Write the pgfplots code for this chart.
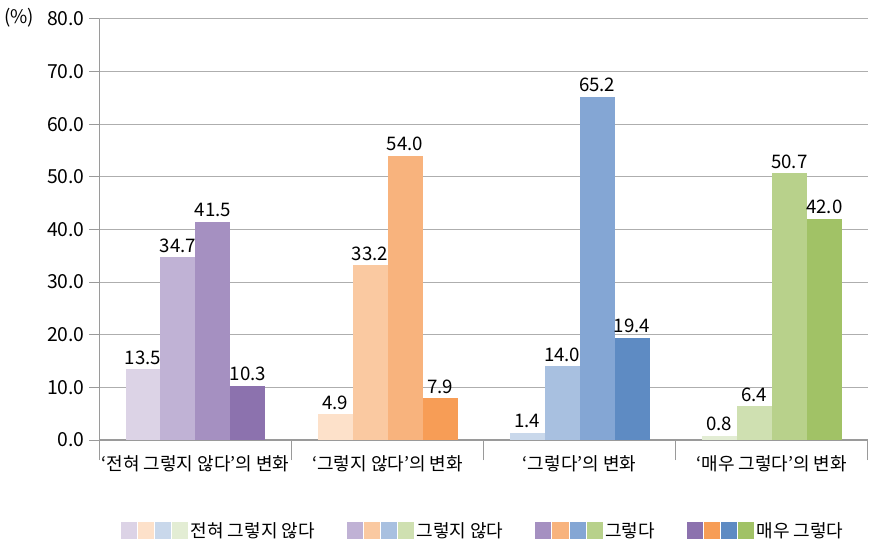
\documentclass[border=0pt]{standalone}
\usepackage{pgfplots}
\pgfplotsset{compat=1.18}
\usepackage{fontspec}
\setmainfont{Noto Sans CJK KR}
\definecolor{P1}{HTML}{DCD3E6}\definecolor{P2}{HTML}{C0B2D5}\definecolor{P3}{HTML}{A590C1}\definecolor{P4}{HTML}{8C72AE}
\definecolor{O1}{HTML}{FDE1CA}\definecolor{O2}{HTML}{FAC9A1}\definecolor{O3}{HTML}{F8B37D}\definecolor{O4}{HTML}{F79D56}
\definecolor{B1}{HTML}{C9D8EB}\definecolor{B2}{HTML}{A8C0E0}\definecolor{B3}{HTML}{84A6D4}\definecolor{B4}{HTML}{5E8BC3}
\definecolor{G1}{HTML}{E3EDD4}\definecolor{G2}{HTML}{CFE0B1}\definecolor{G3}{HTML}{B8D18B}\definecolor{G4}{HTML}{A1C266}
\definecolor{axgray}{HTML}{9A9A9A}
\newcommand{\sq}[2]{\fill[#1] (#2,-6.25pt) rectangle ++(12pt,12.75pt);}
\begin{document}
\begin{tikzpicture}
\begin{axis}[
  scale only axis, width=576pt, height=315.75pt,
  xmin=-0.5, xmax=3.5, ymin=0, ymax=80,
  ybar, bar width=0.182,
  axis x line*=bottom, axis y line*=left,
  axis line style={draw=axgray, line width=0.9pt, -},
  ytick={0,10,...,80}, ytick pos=left,
  tick align=outside, major tick length=7.5pt,
  ytick style={draw=axgray, line width=0.8pt},
  yticklabel style={font=\fontsize{14.5}{15}\selectfont, /pgf/number format/.cd, fixed, fixed zerofill, precision=1, assume math mode=true},
  ymajorgrids, grid style={draw=axgray!80, line width=0.7pt},
  xtick={0,1,2,3},
  xticklabels={‘전혀 그렇지 않다’의 변화, ‘그렇지 않다’의 변화, ‘그렇다’의 변화, ‘매우 그렇다’의 변화},
  xtick style={draw=none},
  xticklabel style={font=\fontsize{13.5}{14}\selectfont, yshift=-0.5pt},
  extra x ticks={-0.5,0.5,1.5,2.5,3.5}, extra x tick labels={},
  extra x tick style={major tick length=15pt, xtick style={draw=axgray, line width=0.9pt}},
  nodes near coords,
  nodes near coords style={font=\fontsize{14}{15}\selectfont, /pgf/number format/.cd, fixed, fixed zerofill, precision=1, assume math mode=true},
  every axis plot/.append style={draw=none},
  legend style={at={(0.5,-0.216)}, anchor=center, draw=none, fill=none, font=\fontsize{13.5}{14}\selectfont,
    /tikz/every even column/.append style={column sep=22pt}},
  legend columns=4,
  clip=false,
]
% series 1: 전혀 그렇지 않다
\addplot[fill=P1, bar shift=-0.273, forget plot] coordinates {(0,13.5)};
\addplot[fill=O1, bar shift=-0.273, forget plot] coordinates {(1,4.9)};
\addplot[fill=B1, bar shift=-0.273, forget plot] coordinates {(2,1.4)};
\addplot[fill=G1, bar shift=-0.273, forget plot] coordinates {(3,0.8)};
% series 2: 그렇지 않다
\addplot[fill=P2, bar shift=-0.091, forget plot] coordinates {(0,34.7)};
\addplot[fill=O2, bar shift=-0.091, forget plot] coordinates {(1,33.2)};
\addplot[fill=B2, bar shift=-0.091, forget plot] coordinates {(2,14.0)};
\addplot[fill=G2, bar shift=-0.091, forget plot] coordinates {(3,6.4)};
% series 3: 그렇다
\addplot[fill=P3, bar shift=0.091, forget plot] coordinates {(0,41.5)};
\addplot[fill=O3, bar shift=0.091, forget plot] coordinates {(1,54.0)};
\addplot[fill=B3, bar shift=0.091, forget plot] coordinates {(2,65.2)};
\addplot[fill=G3, bar shift=0.091, forget plot] coordinates {(3,50.7)};
% series 4: 매우 그렇다
\addplot[fill=P4, bar shift=0.273, forget plot] coordinates {(0,10.3)};
\addplot[fill=O4, bar shift=0.273, forget plot] coordinates {(1,7.9)};
\addplot[fill=B4, bar shift=0.273, forget plot] coordinates {(2,19.4)};
\addplot[fill=G4, bar shift=0.273, forget plot] coordinates {(3,42.0)};
\addlegendimage{legend image code/.code={\sq{P1}{0pt}\sq{O1}{12.75pt}\sq{B1}{25.5pt}\sq{G1}{38.25pt}}}
\addlegendentry{전혀 그렇지 않다}
\addlegendimage{legend image code/.code={\sq{P2}{0pt}\sq{O2}{12.75pt}\sq{B2}{25.5pt}\sq{G2}{38.25pt}}}
\addlegendentry{그렇지 않다}
\addlegendimage{legend image code/.code={\sq{P3}{0pt}\sq{O3}{12.75pt}\sq{B3}{25.5pt}\sq{G3}{38.25pt}}}
\addlegendentry{그렇다}
\addlegendimage{legend image code/.code={\sq{P4}{0pt}\sq{O4}{12.75pt}\sq{B4}{25.5pt}\sq{G4}{38.25pt}}}
\addlegendentry{매우 그렇다}
\node[font=\fontsize{14}{15}\selectfont] at (rel axis cs:0,1) [xshift=-60pt, yshift=1pt] {(\%)};
\path (rel axis cs:1,1) ++(12pt,14pt) coordinate (tr);
\path[use as bounding box] (tr) rectangle ++(0.1pt,0.1pt);
\end{axis}
\end{tikzpicture}
\end{document}
